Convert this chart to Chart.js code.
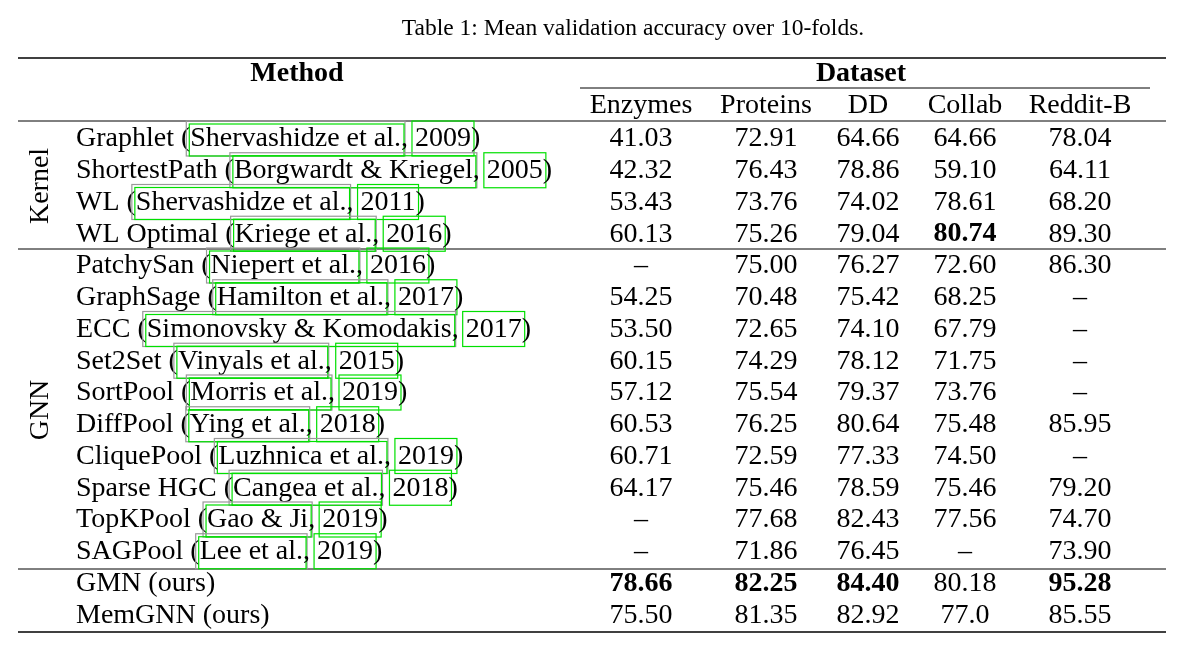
<!DOCTYPE html>
<html>
<head>
<meta charset="UTF-8">
<title>Table 1</title>
<style>body{margin:0;background:#fff}</style>
</head>
<body>
<canvas id="chart" width="1185" height="646"></canvas>
<script src="https://cdn.jsdelivr.net/npm/chart.js"></script>
<script>
// table data
const columns = ["Enzymes", "Proteins", "DD", "Collab", "Reddit-B"];
const methods = ["Graphlet", "ShortestPath", "WL", "WL Optimal", "PatchySan", "GraphSage", "ECC", "Set2Set",
    "SortPool", "DiffPool", "CliquePool", "Sparse HGC", "TopKPool", "SAGPool", "GMN (ours)", "MemGNN (ours)"];
const authors = ["Shervashidze et al.", "Borgwardt & Kriegel", "Shervashidze et al.", "Kriege et al.", "Niepert et al.",
    "Hamilton et al.", "Simonovsky & Komodakis", "Vinyals et al.", "Morris et al.", "Ying et al.", "Luzhnica et al.",
    "Cangea et al.", "Gao & Ji", "Lee et al.", "", ""];
const years = ["2009", "2005", "2011", "2016", "2016", "2017", "2017", "2015", "2019", "2018", "2019", "2018", "2019", "2019", "", ""];
const enzymes = ["41.03", "42.32", "53.43", "60.13", "–", "54.25", "53.50", "60.15", "57.12", "60.53", "60.71", "64.17", "–", "–", "78.66", "75.50"];
const proteins = ["72.91", "76.43", "73.76", "75.26", "75.00", "70.48", "72.65", "74.29", "75.54", "76.25", "72.59", "75.46", "77.68", "71.86", "82.25", "81.35"];
const dd = ["64.66", "78.86", "74.02", "79.04", "76.27", "75.42", "74.10", "78.12", "79.37", "80.64", "77.33", "78.59", "82.43", "76.45", "84.40", "82.92"];
const collab = ["64.66", "59.10", "78.61", "80.74", "72.60", "68.25", "67.79", "71.75", "73.76", "75.48", "74.50", "75.46", "77.56", "–", "80.18", "77.0"];
const redditB = ["78.04", "64.11", "68.20", "89.30", "86.30", "–", "–", "–", "–", "85.95", "–", "79.20", "74.70", "73.90", "95.28", "85.55"];
const bold = ["3-3", "14-0", "14-1", "14-2", "14-4"];

// layout (pixel scale)
const colX = [641, 766, 868, 965, 1080];
const methodX = 76;
const rowY0 = 139, rowH = 31.75;
const FONT = '"Liberation Serif", "DejaVu Serif", serif';
const SZ = '28px ';

const values = [enzymes, proteins, dd, collab, redditB];
const points = [];
values.forEach((col, c) => col.forEach((v, r) => {
    points.push({x: colX[c], y: rowY0 + r * rowH, label: v, bold: bold.includes(r + "-" + c)});
}));
const methodPts = methods.map((m, r) => ({x: methodX, y: rowY0 + r * rowH, label: m, r: r}));
const headerPts = columns.map((c, i) => ({x: colX[i], y: 106, label: c}));

const tablePlugin = {
    id: 'tableText',
    afterDatasetsDraw(chart) {
        const ctx = chart.ctx;
        const xs = chart.scales.x, ys = chart.scales.y;
        ctx.save();
        ctx.fillStyle = '#000';
        ctx.textBaseline = 'middle';
        // title
        ctx.font = '23.5px ' + FONT;
        ctx.textAlign = 'center';
        ctx.fillText('Table 1: Mean validation accuracy over 10-folds.', xs.getPixelForValue(633), ys.getPixelForValue(29));
        // rules
        const hline = (x1, x2, y, w) => {
            ctx.beginPath();
            ctx.lineWidth = w;
            ctx.strokeStyle = '#000';
            ctx.moveTo(xs.getPixelForValue(x1), ys.getPixelForValue(y));
            ctx.lineTo(xs.getPixelForValue(x2), ys.getPixelForValue(y));
            ctx.stroke();
        };
        hline(18, 1166, 58, 1.3);
        hline(580, 1150, 88, 1);
        hline(18, 1166, 121, 1);
        hline(18, 1166, 249, 1);
        hline(18, 1166, 569, 1);
        hline(18, 1166, 632, 1.3);
        // group headers
        ctx.font = 'bold ' + SZ + FONT;
        ctx.fillText('Method', xs.getPixelForValue(297), ys.getPixelForValue(74));
        ctx.fillText('Dataset', xs.getPixelForValue(861), ys.getPixelForValue(74));
        ctx.font = SZ + FONT;
        [['Kernel', 186], ['GNN', 410]].forEach(([t, y]) => {
            ctx.save();
            ctx.translate(xs.getPixelForValue(41), ys.getPixelForValue(y));
            ctx.rotate(-Math.PI / 2);
            ctx.fillText(t, 0, 0);
            ctx.restore();
        });
        // datasets
        chart.data.datasets.forEach((ds, di) => {
            const meta = chart.getDatasetMeta(di);
            meta.data.forEach((el, i) => {
                const p = ds.data[i];
                if (ds.kind === 'method') {
                    ctx.textAlign = 'left';
                    ctx.font = SZ + FONT;
                    const r = p.r;
                    let x = el.x;
                    if (!authors[r]) { ctx.fillText(p.label, x, el.y); return; }
                    const parts = [p.label + ' (', authors[r], ', ', years[r], ')'];
                    parts.forEach((s, k) => {
                        const w = ctx.measureText(s).width;
                        if (k === 1) {
                            ctx.lineWidth = 1.2;
                            ctx.strokeStyle = '#999';
                            ctx.strokeRect(x - 4, el.y - 18, w + 8, 35);
                            ctx.strokeStyle = '#00e000';
                            ctx.strokeRect(x - 1, el.y - 15, w + 4, 32);
                        }
                        if (k === 3) {
                            ctx.lineWidth = 1.2;
                            ctx.strokeStyle = '#00e000';
                            ctx.strokeRect(x - 3, el.y - 18, w + 6, 35);
                        }
                        ctx.fillText(s, x, el.y);
                        x += w;
                    });
                } else {
                    ctx.textAlign = 'center';
                    ctx.font = (p.bold ? 'bold ' : '') + SZ + FONT;
                    ctx.fillText(p.label, el.x, el.y);
                }
            });
        });
        ctx.restore();
    }
};

new Chart(document.getElementById('chart').getContext('2d'), {
    type: 'scatter',
    data: {
        datasets: [
            {data: headerPts, kind: 'header', pointRadius: 0},
            {data: methodPts, kind: 'method', pointRadius: 0},
            {data: points, kind: 'value', pointRadius: 0},
        ],
    },
    options: {
        responsive: false,
        animation: false,
        layout: {padding: 0},
        plugins: {legend: {display: false}, tooltip: {enabled: false}},
        scales: {
            x: {type: 'linear', min: 0, max: 1185, display: false},
            y: {type: 'linear', min: 0, max: 646, reverse: true, display: false},
        },
    },
    plugins: [tablePlugin],
});
</script>
</body>
</html>
